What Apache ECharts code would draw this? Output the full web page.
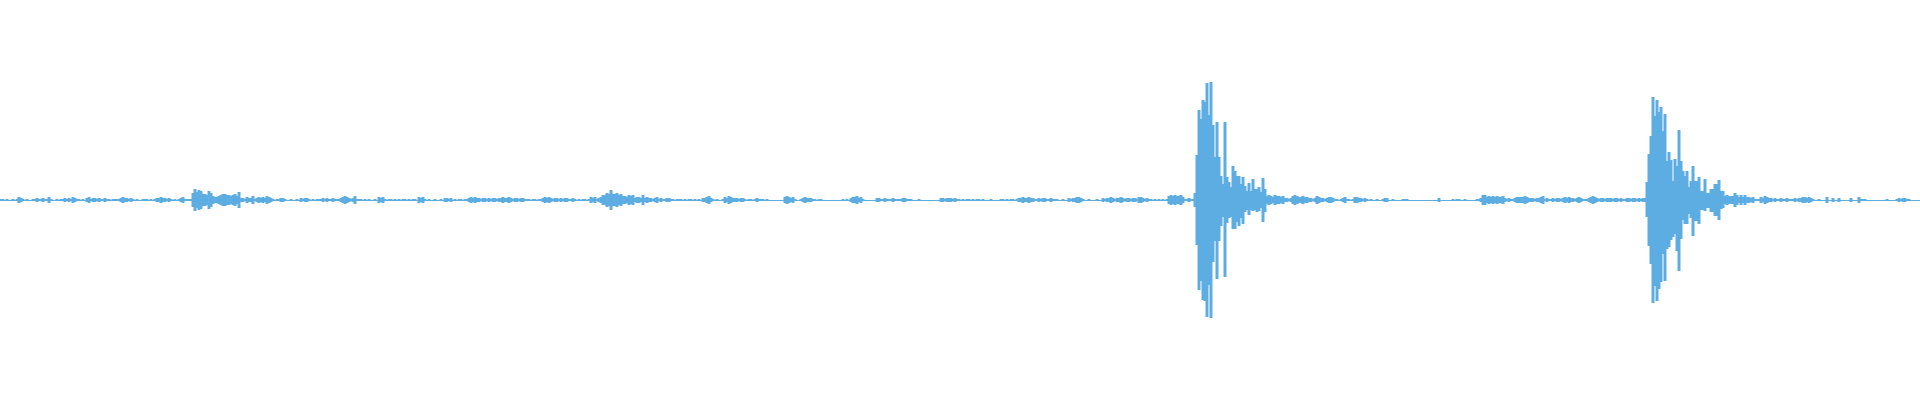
<!DOCTYPE html>
<html>
<head>
<meta charset="utf-8">
<script src="https://cdn.jsdelivr.net/npm/echarts@6.0.0/dist/echarts.min.js"></script>
<style>
html,body{margin:0;padding:0;background:#ffffff;}
#chart{width:1920px;height:400px;}
</style>
</head>
<body>
<div id="chart"></div>
<script>
// Waveform envelope, one value per sample column (amplitude, full scale = 200)
const upperEnvelope = [
1,1,0,1,0,0,1,0,1,3, 2,1,0,1,0,0,1,1,2,1, 1,2,1,1,3,1,0,0,1,0, 1,1,2,1,2,1,3,2,1,1,
0,1,0,2,3,1,2,2,1,2, 1,1,2,1,1,0,1,1,1,1, 2,3,2,2,1,2,1,0,1,0, 0,1,1,1,0,1,0,1,2,2,
3,2,2,1,2,1,0,1,0,1, 2,3,1,1,1,1,7,11,8,10, 9,6,6,5,9,7,4,3,3,4, 5,6,6,5,5,4,5,6,4,8,
2,2,1,3,2,2,4,1,2,3, 2,3,2,4,3,2,1,0,1,1, 2,2,1,0,0,1,0,0,1,0, 2,1,2,2,1,0,1,0,1,1,
1,2,1,2,1,1,2,1,1,1, 2,3,4,3,2,1,2,4,1,1, 1,0,1,0,1,0,0,1,0,3, 2,3,1,0,1,1,0,1,0,1,
0,1,1,0,1,0,1,1,0,3, 2,3,1,0,1,0,0,1,0,0, 1,0,2,2,1,2,0,1,0,1, 1,0,1,1,2,3,2,3,2,2,
1,2,2,1,2,1,2,2,1,2, 2,3,2,2,3,2,1,2,2,1, 2,2,1,1,1,0,1,1,0,1, 1,2,3,2,3,2,1,2,2,1,
2,1,2,2,1,1,2,1,0,1, 0,1,1,0,1,3,2,3,1,2, 3,5,5,7,6,10,6,6,7,5, 6,4,4,3,5,4,5,2,3,3,
2,5,2,3,2,2,1,2,3,1, 2,1,1,2,2,1,1,0,1,1, 1,0,1,0,1,1,0,1,0,1, 0,2,2,3,4,2,1,0,1,0,
0,1,3,2,4,3,2,2,2,1, 2,2,1,0,1,1,0,1,2,1, 1,1,0,1,0,0,0,0,0,0, 0,0,3,4,3,2,3,1,0,0,
1,2,3,2,2,2,1,1,0,1, 1,0,0,0,0,0,0,0,0,0, 0,1,0,1,0,2,3,3,4,2, 3,1,0,0,0,0,0,0,2,2,
1,1,2,1,1,1,2,1,1,1, 1,2,2,1,1,1,0,0,0,1, 0,0,0,0,0,0,0,0,0,0, 2,2,1,2,2,2,1,2,1,1,
0,1,0,1,1,0,1,0,1,1, 0,1,0,0,0,1,0,0,0,0, 1,1,0,1,0,1,1,0,1,2, 2,3,2,2,3,2,2,1,1,2,
1,2,2,1,1,2,1,1,1,0, 0,1,0,0,2,1,2,2,3,3, 2,1,0,0,1,0,0,0,1,0, 0,2,1,2,2,3,2,1,2,2,
3,2,1,2,2,1,2,2,1,3, 3,2,1,2,1,1,0,1,0,1, 0,1,0,1,4,5,4,5,4,4, 5,3,1,1,2,1,1,7,45,90,
81,100,98,117,85,118,75,43,78,43, 24,16,78,23,18,13,34,29,24,24, 16,23,14,9,17,9,21,11,11,13, 8,22,11,4,5,4,3,5,4,4,
3,4,2,2,1,2,4,5,4,3, 3,4,3,3,2,2,1,2,4,3, 2,2,1,2,3,3,2,1,1,0, 1,2,3,1,1,0,1,3,3,2,
2,1,2,1,0,1,0,0,1,0, 0,1,2,2,0,0,1,0,0,0, 0,1,1,1,0,0,0,0,0,0, 0,0,0,0,0,0,0,0,0,2,
0,0,0,0,0,0,1,0,1,1, 0,0,1,0,0,0,0,0,1,1, 2,5,5,3,4,3,4,3,4,3, 3,4,2,1,2,1,1,2,3,3,
3,3,4,3,2,2,2,1,2,2, 3,4,1,2,1,1,2,1,2,2, 1,2,3,2,3,2,2,1,2,3, 2,1,1,1,2,3,4,3,2,1,
2,2,1,2,2,2,1,2,2,1, 2,1,1,2,2,1,2,2,1,2, 1,2,2,18,46,64,103,84,100,88, 93,69,86,39,48,40,19,41,34,70,
39,29,24,29,13,19,34,19,19,23, 9,9,21,7,7,11,11,16,16,20, 9,9,4,5,4,4,4,7,5,3, 5,3,5,3,3,2,3,1,1,1,
3,2,4,3,2,2,1,2,1,1, 2,1,1,2,1,1,1,2,1,2, 2,3,3,2,3,2,1,0,0,1, 0,0,0,3,0,0,2,0,0,2,
0,0,0,0,0,2,0,0,0,3, 1,1,1,0,0,0,0,0,0,0, 0,0,0,1,0,0,0,0,1,2, 1,2,2,1,1,0,0,0,0,0
];

// Lower envelope where it differs from the upper one (the two loud bursts)
const burstAStartSample = 597;
const burstALower = [7,45,90,81,100,101,117,85,118,62,41,79,41,26,17,77,23,18,17,29,29,22,26,18,24,12,10,15,10,11,10,12,11,8,22,12];
const burstBStartSample = 823;
const burstBLower = [17,46,64,103,86,101,89,82,54,81,49,47,40,37,34,51,71,39,20,24,24,14,18,36,21,21,24,10,10,11,8,8,12,12,16,16,20,9,8];

const lowerEnvelope = upperEnvelope.slice();
burstALower.forEach((v, k) => { lowerEnvelope[burstAStartSample + k] = v; });
burstBLower.forEach((v, k) => { lowerEnvelope[burstBStartSample + k] = v; });

const sampleIndex = upperEnvelope.map((_, i) => i);
const WAVE_COLOR = '#5DADE2';

const chart = echarts.init(document.getElementById('chart'), null, {renderer: 'canvas'});
chart.setOption({
  animation: false,
  backgroundColor: '#ffffff',
  grid: {left: 0, right: 0, top: 0, bottom: 0},
  xAxis: {
    type: 'category',
    data: sampleIndex,
    boundaryGap: true,
    axisLine: {show: true, onZero: true, lineStyle: {color: WAVE_COLOR, width: 1}},
    axisTick: {show: false},
    axisLabel: {show: false},
    splitLine: {show: false}
  },
  yAxis: {
    type: 'value',
    min: -200,
    max: 200,
    show: false,
    splitLine: {show: false}
  },
  series: [
    {
      name: 'upper',
      type: 'bar',
      data: upperEnvelope,
      barWidth: 3,
      barGap: '-100%',
      itemStyle: {color: WAVE_COLOR},
      silent: true
    },
    {
      name: 'lower',
      type: 'bar',
      data: lowerEnvelope.map(v => -v),
      barWidth: 3,
      barGap: '-100%',
      itemStyle: {color: WAVE_COLOR},
      silent: true
    }
  ]
});
</script>
</body>
</html>
